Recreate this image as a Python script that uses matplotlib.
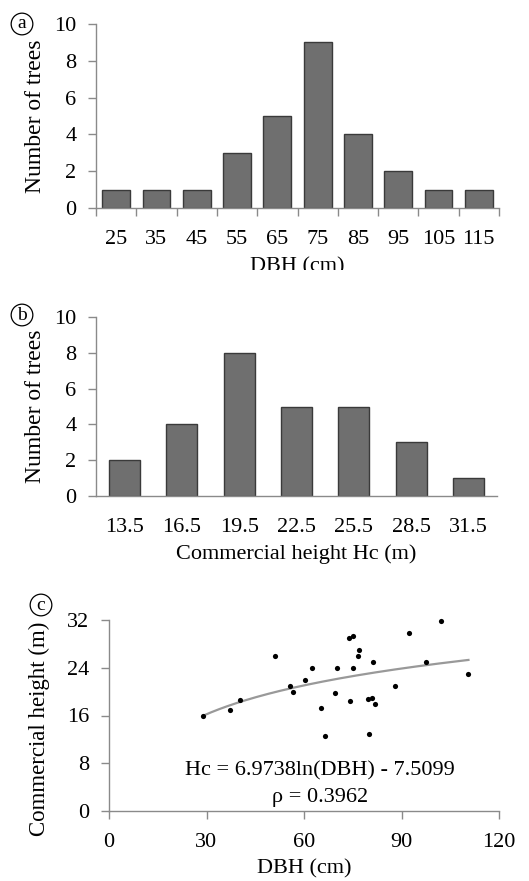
import numpy as np
import matplotlib.pyplot as plt
from matplotlib.transforms import Bbox, TransformedBbox

# --- data ---
dbh_classes = ['25', '35', '45', '55', '65', '75', '85', '95', '105', '115']
dbh_counts = [1, 1, 1, 3, 5, 9, 4, 2, 1, 1]

hc_classes = ['13.5', '16.5', '19.5', '22.5', '25.5', '28.5', '31.5']
hc_counts = [2, 4, 8, 5, 5, 3, 1]

dbh = [29, 37.2, 40.3, 51.1, 55.6, 56.6, 60.4, 62.4, 65.2, 66.5, 69.4, 70.0, 73.8, 74.1,
       75.1, 75.1, 76.7, 77.0, 79.7, 79.9, 80.9, 81.2, 81.8, 88.0, 92.4, 97.4, 102.2, 110.6]
hc = [16.0, 17.0, 18.6, 26.0, 21.0, 20.0, 22.0, 24.0, 17.2, 12.5, 19.7, 24.0, 29.0, 18.5,
      29.4, 24.0, 26.0, 27.0, 18.8, 12.9, 19.0, 25.0, 18.0, 21.0, 29.8, 25.0, 31.9, 22.9]

fit_a, fit_b = 6.9738, -7.5099

plt.rcParams['font.family'] = 'Liberation Serif'
plt.rcParams['font.size'] = 16

AX_COL = '#8a8a8a'
BAR_COL = '#6f6f6f'
BAR_EDGE = '#3a3a3a'

W, H = 529, 881
fig = plt.figure(figsize=(W / 100, H / 100), dpi=100)


def px_axes(l, t, r, b):
    return fig.add_axes([l / W, 1 - b / H, (r - l) / W, (b - t) / H])


def style(ax):
    for s in ['top', 'right']:
        ax.spines[s].set_visible(False)
    for s in ['left', 'bottom']:
        ax.spines[s].set_color(AX_COL)
        ax.spines[s].set_linewidth(1.0)
    ax.tick_params(axis='y', direction='out', length=6, width=1.0, color=AX_COL, pad=8, labelsize=16)
    ax.tick_params(axis='x', labelsize=16)


def circ_label(x, y, letter):
    fig.text(x / W, 1 - y / H, letter, fontsize=14, ha='center', va='center',
             bbox=dict(boxstyle='circle,pad=0.12', fc='white', ec='black', lw=0.9))


# --- (a) DBH histogram ---
ax1 = px_axes(96, 24, 499, 208)
style(ax1)
x1 = np.arange(len(dbh_counts))
ax1.bar(x1, dbh_counts, width=0.69, color=BAR_COL, edgecolor=BAR_EDGE, linewidth=1.0)
ax1.set_xlim(-0.5, len(dbh_counts) - 0.5)
ax1.set_ylim(0, 10)
ax1.set_yticks([0, 2, 4, 6, 8, 10])
ax1.set_xticks(np.arange(len(dbh_counts) + 1) - 0.5)
ax1.set_xticklabels([])
ax1.set_xticks(x1, minor=True)
ax1.set_xticklabels(dbh_classes, minor=True)
ax1.tick_params(axis='x', which='major', direction='out', length=6, width=1.0, color=AX_COL)
ax1.tick_params(axis='x', which='minor', length=0, pad=16, labelsize=16)
ax1.set_ylabel('Number of trees', fontsize=17)
ax1.yaxis.set_label_coords((46 - 96) / 403, 0.5)
ax1.set_xlabel('DBH (cm)', fontsize=16, labelpad=6)
clip = TransformedBbox(Bbox([[0, 1 - 270 / H], [1, 1]]), fig.transFigure)
ax1.xaxis.label.set_clip_box(clip)
ax1.xaxis.label.set_clip_on(True)
circ_label(22, 24, 'a')

# --- (b) commercial height histogram ---
ax2 = px_axes(96, 317, 497, 496)
style(ax2)
x2 = np.arange(len(hc_counts))
ax2.bar(x2, hc_counts, width=0.54, color=BAR_COL, edgecolor=BAR_EDGE, linewidth=1.0)
ax2.set_xlim(-0.5, len(hc_counts) - 0.5)
ax2.set_ylim(0, 10)
ax2.set_yticks([0, 2, 4, 6, 8, 10])
ax2.set_xticks(x2)
ax2.set_xticklabels(hc_classes)
ax2.tick_params(axis='x', length=0, pad=16)
ax2.set_ylabel('Number of trees', fontsize=17)
ax2.yaxis.set_label_coords((46 - 96) / 401, 0.5)
ax2.set_xlabel('Commercial height Hc (m)', fontsize=16, labelpad=5)
circ_label(22, 315, 'b')

# --- (c) scatter with log fit ---
ax3 = px_axes(109, 620, 499, 811)
style(ax3)
ax3.scatter(dbh, hc, s=14, color='black', zorder=3, linewidths=0, clip_on=False)
xf = np.linspace(min(dbh), max(dbh), 200)
ax3.plot(xf, fit_a * np.log(xf) + fit_b, color='#999999', lw=1.6, zorder=2)
ax3.set_xlim(0, 120)
ax3.set_ylim(0, 32)
ax3.set_xticks([0, 30, 60, 90, 120])
ax3.set_yticks([0, 8, 16, 24, 32])
ax3.tick_params(axis='x', direction='out', length=6, width=1.0, color=AX_COL, pad=10)
ax3.set_ylabel('Commercial height (m)', fontsize=16.5)
ax3.yaxis.set_label_coords((50 - 109) / 390, (811 - 729) / 191)
ax3.set_xlabel('DBH (cm)', fontsize=16, labelpad=5)
ax3.text(65, 6.7, 'Hc = 6.9738ln(DBH) - 7.5099', ha='center', va='center', fontsize=16)
ax3.text(65, 2.2, 'ρ = 0.3962', ha='center', va='center', fontsize=16)
circ_label(41, 605, 'c')

fig.savefig('out.png', dpi=100)
